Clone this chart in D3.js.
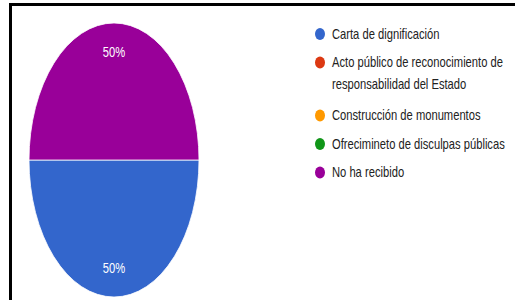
<!DOCTYPE html>
<meta charset="utf-8">
<script src="https://d3js.org/d3.v7.min.js"></script>
<style>
  body { margin: 0; background: #fff; }
  text { font-family: "Liberation Sans", Arial, sans-serif; }
</style>
<div id="my_dataviz"></div>
<script>

// data
const categories = [
    "Carta de dignificación",
    "Acto público de reconocimiento de responsabilidad del Estado",
    "Construcción de monumentos",
    "Ofrecimineto de disculpas públicas",
    "No ha recibido"
];
const values = [50, 0, 0, 0, 50];
const colors = ["#3366cc", "#dc3912", "#ff9900", "#109618", "#990099"];
// legend text broken into lines like the original
const legendLines = [
    ["Carta de dignificación"],
    ["Acto público de reconocimiento de", "responsabilidad del Estado"],
    ["Construcción de monumentos"],
    ["Ofrecimineto de disculpas públicas"],
    ["No ha recibido"]
];

const width = 515, height = 300;

const svg = d3.select("#my_dataviz")
    .append("svg")
    .attr("width", width)
    .attr("height", height);

// frame of the screenshot
svg.append("path")
    .attr("d", `M10.5,${height} V4.5 H${width}`)
    .attr("fill", "none")
    .attr("stroke", "#000")
    .attr("stroke-width", 3);

// pie, stretched vertically into an ellipse
const cx = 114, cy = 160, rx = 85, ry = 137;
const r = rx;

const pie = d3.pie()
    .sort(null)
    .value(d => d)
    .startAngle(Math.PI / 2)
    .endAngle(Math.PI / 2 + 2 * Math.PI);

const arcs = pie(values);
const arc = d3.arc().innerRadius(0).outerRadius(r);
const labelArc = d3.arc().innerRadius(r * 0.79).outerRadius(r * 0.79);

const g = svg.append("g")
    .attr("transform", `translate(${cx},${cy}) scale(1,${ry / rx})`);

g.selectAll("path.slice")
    .data(arcs.filter(d => d.value > 0))
    .join("path")
    .attr("class", "slice")
    .attr("d", arc)
    .attr("fill", d => colors[d.index])
    .attr("stroke", "#fff")
    .attr("stroke-width", 0.6);

// percentage labels
svg.selectAll("text.pct")
    .data(arcs.filter(d => d.value > 0))
    .join("text")
    .attr("class", "pct")
    .attr("transform", d => {
        const c = labelArc.centroid(d);
        return `translate(${cx + c[0]},${cy + c[1] * ry / rx}) scale(0.8,1)`;
    })
    .attr("text-anchor", "middle")
    .attr("dy", "0.35em")
    .attr("fill", "#fff")
    .style("font-size", "14px")
    .text(d => Math.round(d.value / d3.sum(values) * 100) + "%");

// legend
const legend = svg.append("g").attr("transform", "translate(320,34)");
let yPos = 0;
legendLines.forEach((lines, i) => {
    const item = legend.append("g").attr("transform", `translate(0,${yPos})`);
    item.append("ellipse")
        .attr("rx", 5)
        .attr("ry", 6)
        .attr("fill", colors[i]);
    lines.forEach((line, j) => {
        item.append("text")
            .attr("transform", `translate(12,${j * 22}) scale(0.8,1)`)
            .attr("dy", "0.35em")
            .attr("fill", "#222")
            .style("font-size", "14px")
            .text(line);
    });
    yPos += 28.5 + (lines.length - 1) * 24.5;
});

</script>
